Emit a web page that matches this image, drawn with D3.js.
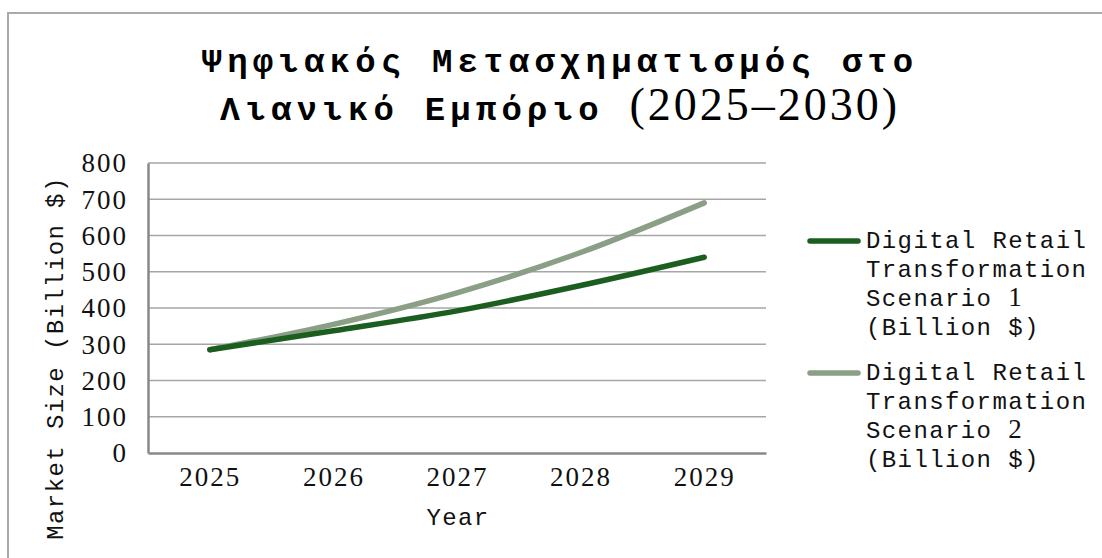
<!DOCTYPE html>
<html><head><meta charset="utf-8">
<script src="https://cdn.jsdelivr.net/npm/d3@7"></script>
<style>body{margin:0;background:#fff}svg{display:block}</style>
</head><body>
<svg id="c" width="1102" height="558"></svg>
<script>
const years = ["2025","2026","2027","2028","2029"];
const scenario1 = [285, 337, 392, 462, 540];
const scenario2 = [285, 355, 442, 553, 690];
const seriesNames = ["Digital Retail Transformation Scenario 1 (Billion $)", "Digital Retail Transformation Scenario 2 (Billion $)"];
const yTicks = [0,100,200,300,400,500,600,700,800];
const colors = ["#1b5e20", "#8a9f86"];

const svg = d3.select("#c");
const mono = "'Liberation Mono', monospace";
const serif = "'Liberation Serif', serif";

// outer frame
svg.append("path").attr("d","M8,560 V13 H1104").attr("fill","none").attr("stroke","#aaa").attr("stroke-width",2);

const m = {l:148, r:766, t:163, b:453};
const x = d3.scalePoint().domain(years).range([m.l, m.r]).padding(0.5);
const y = d3.scaleLinear().domain([0,800]).range([m.b, m.t]);

// gridlines
svg.append("g").selectAll("line").data(yTicks.filter(d=>d>0)).join("line")
  .attr("x1",m.l).attr("x2",m.r).attr("y1",d=>y(d)).attr("y2",d=>y(d))
  .attr("stroke","#a6a6a6").attr("stroke-width",1.5);

// axes
const yAxis = svg.append("g").attr("transform",`translate(${m.l},0)`)
  .call(d3.axisLeft(y).tickValues(yTicks).tickSize(0).tickPadding(20));
yAxis.select(".domain").attr("stroke","#888").attr("stroke-width",2.5);
yAxis.selectAll("text").attr("font-family",serif).attr("font-size",27).attr("letter-spacing",2)
  .attr("fill","#111").attr("dy","0.33em");

const xAxis = svg.append("g").attr("transform",`translate(0,${m.b})`)
  .call(d3.axisBottom(x).tickSize(0).tickPadding(14));
xAxis.select(".domain").attr("stroke","#888").attr("stroke-width",2.5);
xAxis.selectAll("text").attr("font-family",serif).attr("font-size",27).attr("letter-spacing",2).attr("fill","#111");

// lines
const line = d3.line().x((d,i)=>x(years[i])).y(d=>y(d)).curve(d3.curveMonotoneX);
[scenario2, scenario1].forEach((s,k)=>{
  svg.append("path").datum(s).attr("d",line).attr("fill","none")
    .attr("stroke", colors[1-k]).attr("stroke-width",5.5).attr("stroke-linecap","round").attr("stroke-linejoin","round");
});

// mixed text helper: digits (and optional parens) in serif
function mixed(sel, str, opt){
  const re = opt.serifParens ? /([0-9()\u2013\-]+)/ : /([0-9]+)/;
  const full = new RegExp("^" + re.source.slice(1,-1) + "$");
  str.split(re).filter(p=>p.length).forEach(p=>{
    const isSerif = full.test(p);
    sel.append("tspan").text(p)
      .attr("font-family", isSerif ? serif : mono)
      .attr("font-size", isSerif ? opt.serifSize : opt.size)
      .attr("letter-spacing", isSerif ? opt.serifLs : opt.ls)
      .attr("font-weight", isSerif ? "normal" : (opt.weight||"normal"));
  });
}

// title
const titleLines = ["Ψηφιακός Μετασχηματισμός στο", "Λιανικό Εμπόριο (2025–2030)"];
const tY = [72, 120];
titleLines.forEach((t,i)=>{
  const te = svg.append("text").attr("x",560).attr("y",tY[i]).attr("text-anchor","middle").attr("fill","#000");
  mixed(te, t, {size:34, ls:5.2, serifSize:46, serifLs:3, weight:"bold", serifParens:true});
});

const monoOpt = {size:24, ls:1.4, serifSize:27, serifLs:1.4};
// y title
const yt = svg.append("text").attr("transform","translate(63,358) rotate(-90)").attr("text-anchor","middle").attr("fill","#111");
mixed(yt, "Market Size (Billion $)", monoOpt);

// x title
const xt = svg.append("text").attr("x",458).attr("y",525).attr("text-anchor","middle").attr("fill","#111");
mixed(xt, "Year", monoOpt);

// legend
const legendLines = [["Digital Retail","Transformation","Scenario 1","(Billion $)"],["Digital Retail","Transformation","Scenario 2","(Billion $)"]];
const lg = svg.append("g");
seriesNames.forEach((n,i)=>{
  const y0 = 241 + i*132;
  lg.append("line").attr("x1",810).attr("x2",858).attr("y1",y0).attr("y2",y0)
    .attr("stroke",colors[i]).attr("stroke-width",5.5).attr("stroke-linecap","round");
  legendLines[i].forEach((l,j)=>{
    const te = lg.append("text").attr("x",866).attr("y",y0+7+j*29).attr("fill","#111");
    mixed(te, l, monoOpt);
  });
});
</script>
</body></html>
